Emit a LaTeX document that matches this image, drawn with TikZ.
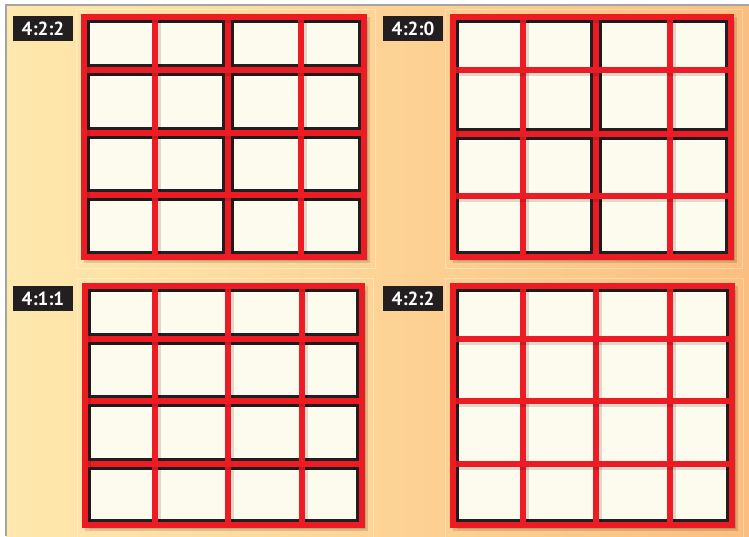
\documentclass[tikz,border=0pt]{standalone}
\usepackage{fontspec}
\setsansfont{PT Sans}
\usetikzlibrary{positioning}
\definecolor{cBgLeft}{RGB}{254,232,173}
\definecolor{cBgRight}{RGB}{252,190,126}
\definecolor{cCell}{RGB}{252,251,238}
\definecolor{cGridRed}{RGB}{237,28,36}
\definecolor{cTag}{RGB}{35,31,32}
\definecolor{cFrame}{RGB}{165,165,165}
\tikzset{
	tag/.style       ={rectangle, fill=cTag, text=white, minimum width=60pt, minimum height=25pt, inner sep=0pt, font=\sffamily\bfseries\fontsize{19}{19}\selectfont},
	panel/.style     ={draw=white, draw opacity=0.35, line width=0.8pt},
	gridshadow/.style={fill=black, fill opacity=0.12},
	cellfill/.style  ={fill=cCell},
	% sample groups and grid lines
	grp/.style       ={draw=cTag, line width=3.2pt},
	redline/.style   ={draw=cGridRed, line width=5.5pt, line join=miter, preaction={draw=black, draw opacity=0.13, line width=6.5pt, transform canvas={shift={(2.8pt,-2.8pt)}}}},
}
\begin{document}
\begin{tikzpicture}[x=1pt, y=-1pt]
	\useasboundingbox (0,0) rectangle (749,536);
	\fill[white] (0,0) rectangle (749,536);
	\shade[left color=cBgLeft, right color=cBgRight] (6,5) rectangle (749,536);
	\draw[cFrame, line width=1.5pt] (6,536) -- (6,5) -- (749,5);
	\draw[panel] (76,9) rectangle (375,268);
	\draw[panel] (445,9) rectangle (742,268);
	\draw[panel] (77,278) rectangle (373,540);
	\draw[panel] (445,278) rectangle (743,540);

	% 4:2:2
	\fill[gridshadow] (88,21) rectangle (368,261);
	\fill[cellfill] (84,17) rectangle (364,257);
	\foreach \ya/\yb in {17/70, 70/133, 133/195, 195/257}{
		\draw[grp] ([shift={(4.2,4.2)}]84,\ya) rectangle ([shift={(-4.2,-4.2)}]228,\yb);
		\draw[grp] ([shift={(4.2,4.2)}]228,\ya) rectangle ([shift={(-4.2,-4.2)}]364,\yb);
	}
	\foreach \x in {155,228,301} \draw[redline] (\x,17) -- (\x,257);
	\foreach \y in {70,133,195} \draw[redline] (84,\y) -- (364,\y);
	\draw[redline] (84,17) rectangle (364,257);

	% 4:2:0
	\fill[gridshadow] (457,21) rectangle (735,261);
	\fill[cellfill] (453,17) rectangle (731,257);
	\foreach \ya/\yb in {17/134, 134/257}{
		\draw[grp] ([shift={(4.2,4.2)}]453,\ya) rectangle ([shift={(-4.2,-4.2)}]596,\yb);
		\draw[grp] ([shift={(4.2,4.2)}]596,\ya) rectangle ([shift={(-4.2,-4.2)}]731,\yb);
	}
	\foreach \x in {523,596,670} \draw[redline] (\x,17) -- (\x,257);
	\foreach \y in {70,134,196} \draw[redline] (453,\y) -- (731,\y);
	\draw[redline] (453,17) rectangle (731,257);

	% 4:1:1
	\fill[gridshadow] (89,290) rectangle (366,529);
	\fill[cellfill] (85,286) rectangle (362,525);
	\foreach \ya/\yb in {286/339, 339/401, 401/464, 464/525}
		\draw[grp] ([shift={(4.2,4.2)}]85,\ya) rectangle ([shift={(-4.2,-4.2)}]362,\yb);
	\foreach \x in {155,228,302} \draw[redline] (\x,286) -- (\x,525);
	\foreach \y in {339,401,464} \draw[redline] (85,\y) -- (362,\y);
	\draw[redline] (85,286) rectangle (362,525);

	% 4:2:2
	\fill[gridshadow] (457,290) rectangle (736,529);
	\fill[cellfill] (453,286) rectangle (732,525);
	\draw[grp] ([shift={(4.2,4.2)}]453,286) rectangle ([shift={(-4.2,-4.2)}]732,525);
	\foreach \x in {523,596,670} \draw[redline] (\x,286) -- (\x,525);
	\foreach \y in {339,401,464} \draw[redline] (453,\y) -- (732,\y);
	\draw[redline] (453,286) rectangle (732,525);

	\node[tag] (tagTL) at (43,28.5) {4:2:2};
	\node[tag] (tagTR) at (413,28.5) {4:2:0};
	\node[tag] (tagBL) at (43,298.5) {4:1:1};
	\node[tag] (tagBR) at (413,298.5) {4:2:2};
\end{tikzpicture}
\end{document}
